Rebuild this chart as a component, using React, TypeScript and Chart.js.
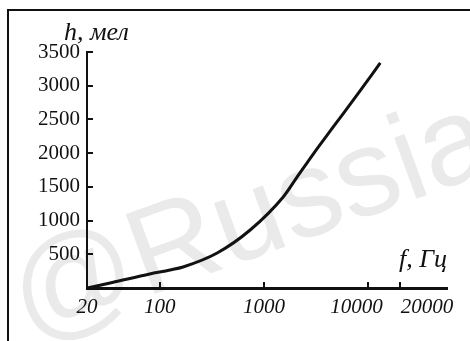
import React, { useEffect, useRef } from "react";
import { Chart, registerables } from "chart.js";

Chart.register(...registerables);

const FREQ = [20, 35, 80, 125, 167, 355, 736, 1527, 2080, 2966, 4614, 7850, 13050];
const MEL = [0, 82, 208, 267, 312, 519, 860, 1350, 1647, 1987, 2388, 2868, 3337];
const X_TICKS = [20, 100, 1000, 10000, 20000];
const Y_TICKS = [500, 1000, 1500, 2000, 2500, 3000, 3500];
const Y_TITLE = "h, мел";
const X_TITLE = "f, Гц";
const WATERMARK = "@Russia";

export default function App() {
  const ref = useRef<HTMLCanvasElement | null>(null);
  useEffect(() => {
    const canvas = ref.current!;
    const decor = {
      id: "decor",
      beforeDraw(chart: any) {
        const ctx = chart.ctx;
        ctx.save();
        ctx.fillStyle = "#eaeaea";
        ctx.font = '123px "Liberation Sans"';
        ctx.translate(28, 340);
        ctx.rotate(-20 * Math.PI / 180);
        ctx.fillText(WATERMARK, 0, 0);
        ctx.restore();
      },
      afterDatasetsDraw(chart: any) {
        const ctx = chart.ctx;
        const xs = chart.scales.x;
        const ys = chart.scales.y;
        const a = chart.chartArea;
        ctx.save();
        ctx.strokeStyle = "#111";
        ctx.lineWidth = 2;
        for (const v of Y_TICKS) {
          const y = Math.round(ys.getPixelForValue(v));
          ctx.beginPath();
          ctx.moveTo(a.left, y);
          ctx.lineTo(a.left + 6, y);
          ctx.stroke();
        }
        for (const v of X_TICKS.slice(1)) {
          const x = Math.round(xs.getPixelForValue(v));
          ctx.beginPath();
          ctx.moveTo(x, a.bottom);
          ctx.lineTo(x, a.bottom - 6);
          ctx.stroke();
        }
        // x tick labels, spread apart where they would collide
        ctx.fillStyle = "#111";
        ctx.font = 'italic 21px "Liberation Serif"';
        ctx.textBaseline = "top";
        ctx.textAlign = "center";
        const labels = X_TICKS.map((v) => String(v));
        const widths = labels.map((l) => ctx.measureText(l).width);
        const centers = X_TICKS.map((v) => xs.getPixelForValue(v));
        const gap = 18;
        for (let pass = 0; pass < 5; pass++) {
          for (let i = 0; i < centers.length - 1; i++) {
            const need = widths[i] / 2 + widths[i + 1] / 2 + gap;
            const have = centers[i + 1] - centers[i];
            if (have < need) {
              const d = (need - have) / 2;
              centers[i] -= d * 0.6;
              centers[i + 1] += d * 1.4;
            }
          }
        }
        labels.forEach((l, i) => ctx.fillText(l, centers[i], a.bottom + 9));
        ctx.textAlign = "left";
        ctx.textBaseline = "alphabetic";
        ctx.font = 'italic 26px "Liberation Serif"';
        ctx.fillText(Y_TITLE, 64, 40);
        ctx.fillText(X_TITLE, 399, 267);
        ctx.restore();
      },
    };
    const chart = new Chart(canvas, {
      type: "line",
      data: {
        datasets: [
          {
            data: FREQ.map((f, i) => ({ x: f, y: MEL[i] })),
            borderColor: "#111",
            borderWidth: 3,
            pointRadius: 0,
            cubicInterpolationMode: "monotone",
            fill: false,
          },
        ],
      },
      options: {
        responsive: false,
        animation: false,
        devicePixelRatio: 1,
        layout: { padding: { left: 8, top: 52, right: 23, bottom: 0 } },
        plugins: { legend: { display: false }, tooltip: { enabled: false } },
        scales: {
          x: {
            type: "logarithmic",
            min: 20,
            max: 57000,
            afterBuildTicks: (s: any) => {
              s.ticks = X_TICKS.map((v) => ({ value: v }));
            },
            afterFit: (s: any) => {
              s.height = 53;
            },
            grid: { display: true, drawOnChartArea: false, drawTicks: false },
            border: { display: true, color: "#111", width: 3 },
            ticks: { display: false },
          },
          y: {
            type: "linear",
            min: 0,
            max: 3500,
            afterBuildTicks: (s: any) => {
              s.ticks = Y_TICKS.map((v) => ({ value: v }));
            },
            afterFit: (s: any) => {
              s.width = 79;
            },
            grid: { display: true, drawOnChartArea: false, drawTicks: false },
            border: { display: true, color: "#111", width: 2 },
            ticks: {
              autoSkip: false,
              padding: 7,
              color: "#111",
              font: { family: "Liberation Serif", size: 21 },
              callback: (v: any) => String(v),
            },
          },
        },
      },
      plugins: [decor],
    } as any);
    return () => chart.destroy();
  }, []);
  return (
    <div style={{ position: "absolute", left: 0, top: 0, width: 470, height: 341, overflow: "hidden", background: "#fff" }}>
      <div
        style={{
          position: "absolute",
          left: 7,
          top: 9,
          width: 480,
          height: 360,
          borderTop: "2px solid #111",
          borderLeft: "2px solid #111",
        }}
      />
      <canvas ref={ref} width={470} height={341} style={{ position: "absolute", left: 0, top: 0, display: "block" }} />
    </div>
  );
}
